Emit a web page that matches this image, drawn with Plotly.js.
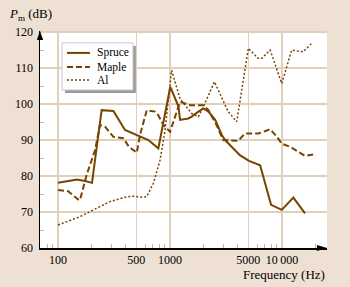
<!DOCTYPE html>
<html>
<head>
<meta charset="utf-8">
<script src="https://cdn.plot.ly/plotly-3.0.1.min.js"></script>
<style>
  html, body { margin: 0; padding: 0; background: #eee1d4; }
  #grafico { width: 350px; height: 287px; }
</style>
</head>
<body>
<div id="grafico"></div>
<script>
    // datos (frecuencia en Hz, nivel en dB)
    var freqSpruce = [100, 120, 148, 174, 201, 245, 312, 396, 540, 640, 786, 1005, 1190, 1228, 1458, 1560, 1790, 1989, 2200, 2530, 2900, 3100, 4200, 5070, 6370, 7980, 9940, 12620, 16030];
    var dbSpruce = [78.1, 78.6, 79.0, 78.6, 78.1, 98.3, 98.1, 92.8, 91.1, 90.0, 87.7, 104.8, 99.3, 95.6, 96.0, 96.5, 97.9, 98.8, 97.9, 95.6, 91.4, 90.0, 85.8, 84.2, 83.0, 72.0, 70.6, 74.0, 69.6];

    var freqMaple = [100, 123, 151, 157, 180, 214, 237, 263, 312, 383, 430, 505, 540, 620, 734, 786, 872, 1000, 1110, 1228, 1360, 1510, 1989, 2200, 2600, 2980, 4060, 4660, 6150, 7830, 8970, 9940, 11830, 16030, 18960];
    var dbMaple = [76.1, 75.8, 73.5, 73.3, 80.3, 87.2, 94.2, 93.7, 90.9, 90.5, 88.1, 86.5, 91.5, 98.3, 97.9, 96.9, 94.2, 92.3, 96.5, 100.6, 100.2, 99.7, 99.7, 98.3, 94.2, 90.0, 89.8, 91.8, 91.8, 93.0, 91.0, 89.0, 88.1, 85.6, 86.0];

    var freqAl = [100, 157, 207, 291, 396, 470, 578, 620, 710, 814, 903, 1033, 1228, 1560, 1790, 1989, 2490, 3300, 3940, 5000, 6110, 6600, 7830, 9940, 12200, 15430, 18430];
    var dbAl = [66.4, 68.7, 70.6, 72.9, 74.1, 74.4, 74.1, 74.3, 78.0, 84.4, 92.8, 109.4, 101.5, 97.4, 96.5, 99.3, 106.2, 97.9, 95.1, 115.5, 112.7, 112.7, 115.0, 105.7, 115.0, 114.5, 116.9];

    var nombres = ["Spruce", "Maple", "Al"];

    var marcasX = [100, 500, 1000, 5000, 10000];
    var textoX = ["100", "500", "1000", "5000", "10\u2009000"];
    var menoresX = [80, 90, 200, 300, 400, 600, 700, 800, 900, 2000, 3000, 4000, 6000, 7000, 8000, 9000, 20000];
    var marcasY = [60, 70, 80, 90, 100, 110, 120];
    var menoresY = [65, 75, 85, 95, 105, 115];

    var colorLinea = "#774400";
    var colorRejilla = "#e2cfb9";
    var fuente = "Liberation Serif, Times New Roman, serif";
    var estilos = [
        { color: colorLinea, width: 2 },
        { color: colorLinea, width: 2, dash: "6px,3px" },
        { color: colorLinea, width: 1.5, dash: "2px,2px" }
    ];

    var data = [
        { x: freqSpruce, y: dbSpruce, name: nombres[0], mode: "lines", type: "scatter", line: estilos[0] },
        { x: freqMaple, y: dbMaple, name: nombres[1], mode: "lines", type: "scatter", line: estilos[1] },
        { x: freqAl, y: dbAl, name: nombres[2], mode: "lines", type: "scatter", line: estilos[2] }
    ];

    // la leyenda se arma a mano para que quede compacta como en el original
    var formas = [
        // sombra
        { type: "rect", xref: "paper", yref: "paper", x0: 0.087, x1: 0.334, y0: 0.714, y1: 0.931,
          fillcolor: "#9a9a9a", line: { width: 0 }, layer: "above" },
        // caja
        { type: "rect", xref: "paper", yref: "paper", x0: 0.0767, x1: 0.324, y0: 0.728, y1: 0.945,
          fillcolor: "#ffffff", line: { width: 1, color: "#c8c8c8" }, layer: "above" },
        // flecha del eje y
        { type: "path", xref: "paper", yref: "paper", path: "M 0 1.0 L -0.011 0.958 L 0.011 0.958 Z",
          fillcolor: "#000", line: { width: 0 } },
        // flecha del eje x
        { type: "path", xref: "paper", yref: "paper", path: "M 1.0 0 L 0.965 0.014 L 0.965 -0.014 Z",
          fillcolor: "#000", line: { width: 0 } }
    ];
    var notas = [
        { text: "<i>P</i><sub>m</sub> (dB)", xref: "paper", yref: "paper", x: -0.115, y: 1.074,
          xanchor: "left", yanchor: "middle", showarrow: false, font: { family: fuente, size: 13 } },
        { text: "Frequency (Hz)", xref: "paper", yref: "paper", x: 1.0, y: -0.12,
          xanchor: "right", yanchor: "middle", showarrow: false, font: { family: fuente, size: 13 } }
    ];
    var filasLeyenda = [0.899, 0.834, 0.774];
    for (var i = 0; i < nombres.length; i++) {
        formas.push({ type: "line", xref: "paper", yref: "paper", x0: 0.094, x1: 0.174,
            y0: filasLeyenda[i], y1: filasLeyenda[i], line: estilos[i], layer: "above" });
        notas.push({ text: nombres[i], xref: "paper", yref: "paper", x: 0.19, y: filasLeyenda[i],
            xanchor: "left", yanchor: "middle", showarrow: false, font: { family: fuente, size: 11.5 } });
    }

    var layout = {
        width: 350,
        height: 287,
        margin: { l: 40, r: 23, t: 31, b: 39 },
        paper_bgcolor: "#eee1d4",
        plot_bgcolor: "#ffffff",
        font: { family: fuente, size: 12, color: "#000" },
        showlegend: false,
        xaxis: {
            type: "log",
            range: [Math.log10(69), Math.log10(25200)],
            tickmode: "array", tickvals: marcasX, ticktext: textoX,
            ticks: "", showgrid: true, gridcolor: colorRejilla, gridwidth: 1.5,
            zeroline: false, showline: true, linecolor: "#000", linewidth: 1.5,
            minor: { tickmode: "array", tickvals: menoresX, ticks: "inside", ticklen: 4, tickcolor: "#cbb79f", showgrid: false },
            ticklabelstandoff: 0,
            tickfont: { family: fuente, size: 12 }
        },
        yaxis: {
            range: [60, 120.3],
            tickmode: "array", tickvals: marcasY,
            ticks: "", showgrid: true, gridcolor: colorRejilla, gridwidth: 1.5,
            zeroline: false, showline: true, linecolor: "#000", linewidth: 1.5,
            minor: { tickmode: "array", tickvals: menoresY, ticks: "inside", ticklen: 4, tickcolor: "#cbb79f", showgrid: false },
            ticklabelstandoff: 3,
            tickfont: { family: fuente, size: 12 }
        },
        shapes: formas,
        annotations: notas
    };

    Plotly.newPlot("grafico", data, layout, { displayModeBar: false, staticPlot: true });
</script>
</body>
</html>
